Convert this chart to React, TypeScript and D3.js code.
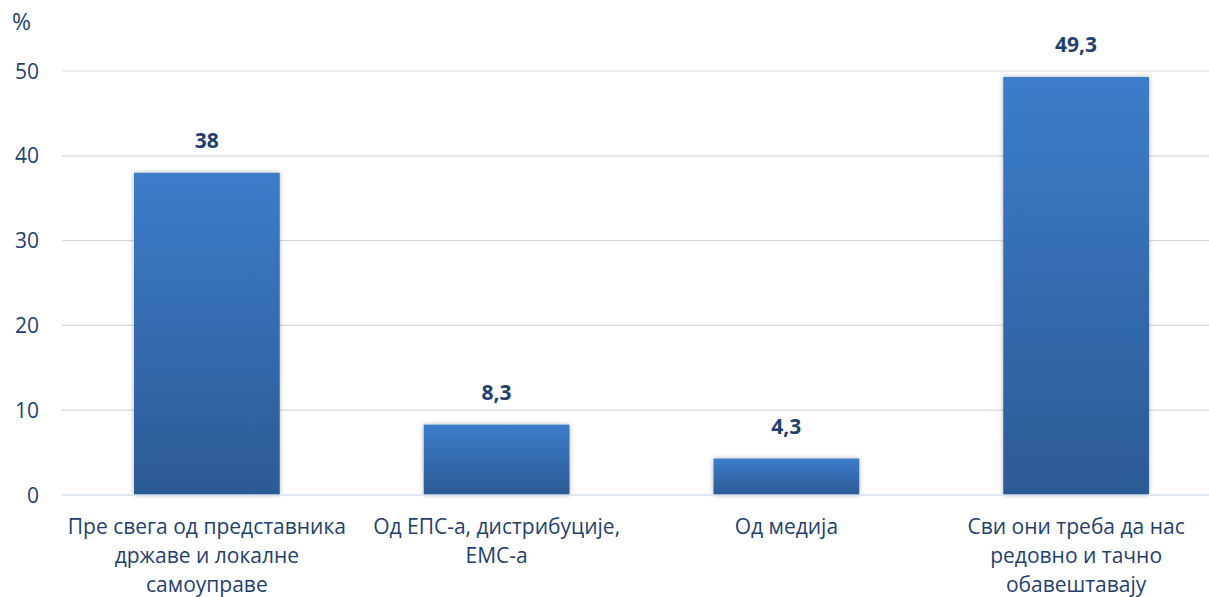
import React, { useEffect, useRef } from "react";
import * as d3 from "d3";

const categories: string[][] = [
  ["Пре свега од представника", "државе и локалне", "самоуправе"],
  ["Од ЕПС-а, дистрибуције,", "ЕМС-а"],
  ["Од медија"],
  ["Сви они треба да нас", "редовно и тачно", "обавештавају"],
];
const values: number[] = [38, 8.3, 4.3, 49.3];
const valueLabels: string[] = ["38", "8,3", "4,3", "49,3"];
const yTicks: number[] = [0, 10, 20, 30, 40, 50];

const W = 1209;
const H = 597;
const FONT = "'Open Sans', 'Noto Sans', sans-serif";
const TEXT = "#1f3f6e";

export default function App() {
  const ref = useRef<SVGSVGElement>(null);
  useEffect(() => {
    const svg = d3.select(ref.current);
    svg.selectAll("*").remove();

    const defs = svg.append("defs");
    const grad = defs
      .append("linearGradient")
      .attr("id", "barGrad")
      .attr("x1", 0)
      .attr("y1", 0)
      .attr("x2", 0)
      .attr("y2", 1);
    grad.append("stop").attr("offset", "0%").attr("stop-color", "#3c7dca");
    grad.append("stop").attr("offset", "100%").attr("stop-color", "#2c5a95");
    const filt = defs
      .append("filter")
      .attr("id", "shadow")
      .attr("x", "-10%")
      .attr("y", "-10%")
      .attr("width", "120%")
      .attr("height", "120%");
    filt
      .append("feDropShadow")
      .attr("dx", 0)
      .attr("dy", 0)
      .attr("stdDeviation", 2.5)
      .attr("flood-color", "#000")
      .attr("flood-opacity", 0.3);

    const x = d3
      .scaleBand<number>()
      .domain(d3.range(values.length))
      .range([62, 1221])
      .paddingInner(0.497)
      .paddingOuter(0.2485);
    const y = d3.scaleLinear().domain([0, 50]).range([495, 71]);

    const g = svg.append("g");
    g.selectAll("line.grid")
      .data(yTicks.filter((t) => t !== 0))
      .join("line")
      .attr("class", "grid")
      .attr("x1", 62)
      .attr("x2", W)
      .attr("y1", (d) => y(d))
      .attr("y2", (d) => y(d))
      .attr("stroke", "#d9d9d9")
      .attr("stroke-width", 1.2);

    g.selectAll("text.tick")
      .data(yTicks)
      .join("text")
      .attr("class", "tick")
      .attr("x", 39)
      .attr("y", (d) => y(d))
      .attr("dy", "0.36em")
      .attr("text-anchor", "end")
      .attr("font-family", FONT)
      .attr("font-size", 21)
      .attr("fill", TEXT)
      .text((d) => String(d));

    svg
      .append("text")
      .attr("x", 12)
      .attr("y", 30)
      .attr("font-family", FONT)
      .attr("font-size", 23)
      .attr("fill", TEXT)
      .text("%");

    g.selectAll("rect.bar")
      .data(values)
      .join("rect")
      .attr("class", "bar")
      .attr("x", (_, i) => x(i)!)
      .attr("width", x.bandwidth())
      .attr("y", (d) => y(d))
      .attr("height", (d) => y(0) - y(d))
      .attr("fill", "url(#barGrad)")
      .attr("filter", "url(#shadow)");

    g.append("line")
      .attr("x1", 62)
      .attr("x2", W)
      .attr("y1", y(0))
      .attr("y2", y(0))
      .attr("stroke", "#d5e0f0")
      .attr("stroke-width", 1.5);

    g.selectAll("text.val")
      .data(values)
      .join("text")
      .attr("class", "val")
      .attr("x", (_, i) => x(i)! + x.bandwidth() / 2)
      .attr("y", (d) => y(d) - 25)
      .attr("text-anchor", "middle")
      .attr("font-family", FONT)
      .attr("font-size", 21)
      .attr("font-weight", "bold")
      .attr("fill", TEXT)
      .text((_, i) => valueLabels[i]);

    categories.forEach((lines, i) => {
      const t = g
        .append("text")
        .attr("text-anchor", "middle")
        .attr("font-family", FONT)
        .attr("font-size", 21)
        .attr("fill", TEXT);
      lines.forEach((ln, j) => {
        t.append("tspan")
          .attr("x", x(i)! + x.bandwidth() / 2)
          .attr("y", 534 + j * 29)
          .text(ln);
      });
    });
  }, []);

  return (
    <svg
      ref={ref}
      width={W}
      height={H}
      style={{ position: "absolute", left: 0, top: 0, background: "#fff" }}
    />
  );
}
